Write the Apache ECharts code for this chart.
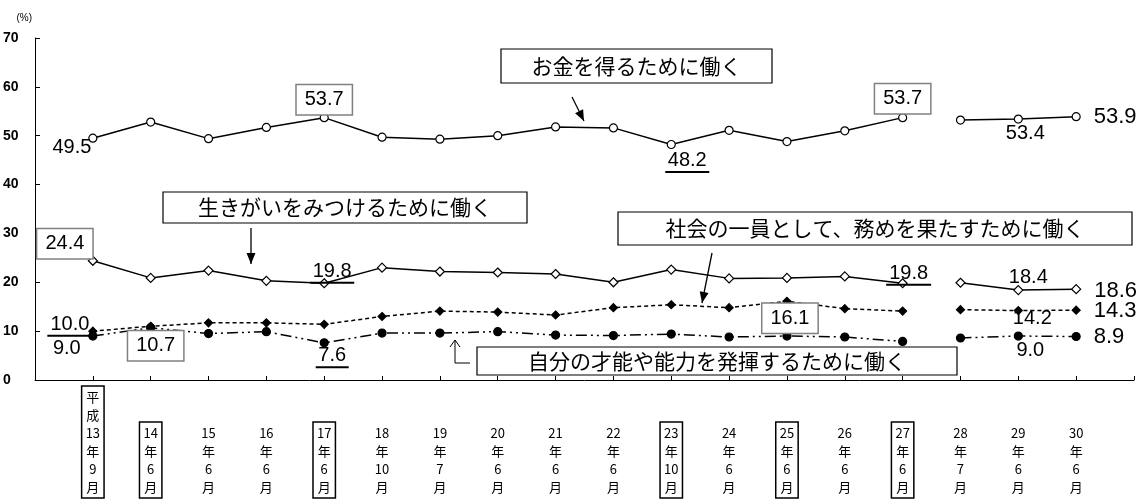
<!DOCTYPE html>
<html>
<head>
<meta charset="utf-8">
<script src="https://cdn.jsdelivr.net/npm/echarts@6/dist/echarts.min.js"></script>
<style>
html, body { margin: 0; background: #fff; }
#main { width: 1148px; height: 499px; }
</style>
</head>
<body>
<div id="main"></div>
<script>
// 調査時期
var categories = ['平成13年9月', '14年6月', '15年6月', '16年6月', '17年6月', '18年10月', '19年7月', '20年6月', '21年6月',
  '22年6月', '23年10月', '24年6月', '25年6月', '26年6月', '27年6月', '28年7月', '29年6月', '30年6月'];
var boxedCategories = ['平成13年9月', '14年6月', '17年6月', '23年10月', '25年6月', '27年6月'];

// 各系列 (%)
var money   = [49.5, 52.8, 49.4, 51.7, 53.7, 49.7, 49.3, 50.0, 51.8, 51.6, 48.2, 51.1, 48.8, 51.0, 53.7, 53.2, 53.4, 53.9];
var ikigai  = [24.4, 20.9, 22.4, 20.3, 19.8, 23.0, 22.2, 22.0, 21.7, 20.0, 22.6, 20.8, 20.9, 21.2, 19.8, 19.9, 18.4, 18.6];
var society = [10.0, 11.0, 11.7, 11.7, 11.4, 13.0, 14.1, 13.9, 13.3, 14.8, 15.4, 14.8, 16.1, 14.6, 14.1, 14.4, 14.2, 14.3];
var talent  = [9.0, 10.7, 9.5, 9.9, 7.6, 9.6, 9.6, 9.9, 9.2, 9.1, 9.4, 8.8, 9.0, 8.8, 7.9, 8.6, 9.0, 8.9];

var yTicks = [0, 10, 20, 30, 40, 50, 60, 70];
var breakAt = 15; // 27年と28年の間で線が切れる

var NUM_FONT = 'Liberation Sans, Arial, sans-serif';
var JP_FONT = 'Noto Sans CJK JP, sans-serif';

// 数値ラベルの置き方（インデックス: [種類, dx, dy, 下線幅]）
var labelSpec = {
  money:   { 0: ['plain', -21, 9], 4: ['box', 0, -18], 10: ['under', 16, 17, 44], 14: ['box', 0, -19], 16: ['plain', 7, 14], 17: ['end', 0, 0] },
  ikigai:  { 0: ['box', -28, -17], 4: ['under', 8, -11, 44], 14: ['under', 6, -9, 45], 16: ['plain', 10, -13], 17: ['end', 0, 2] },
  society: { 0: ['under', -23, -6, 45], 12: ['box', 3, 17], 16: ['plain', 14, 8], 17: ['end', 0, 1] },
  talent:  { 0: ['plain', -26, 12], 1: ['box', 5, 18], 4: ['under', 8, 14, 33], 16: ['plain', 12, 14], 17: ['end', 0, 0] }
};

function makeLabel(spec, v) {
  var kind = spec[0];
  var txt = v.toFixed(1);
  if (kind === 'end') {
    return { show: true, position: 'right', distance: 13, formatter: txt,
      fontFamily: NUM_FONT, fontSize: 22, color: '#000' };
  }
  var lab = { show: true, position: 'inside', formatter: txt,
    fontFamily: NUM_FONT, fontSize: 20, color: '#000' };
  if (kind === 'box') {
    lab.borderColor = '#808080';
    lab.borderWidth = 1.5;
    lab.padding = [5, 8, 4, 8];
    lab.backgroundColor = '#fff';
  }
  if (kind === 'under') {
    lab.formatter = '{t|' + txt + '}\n{u|}';
    lab.rich = {
      t: { fontFamily: NUM_FONT, fontSize: 20, lineHeight: 21, color: '#000' },
      u: { width: spec[3], height: 2, backgroundColor: '#000' }
    };
  }
  return lab;
}

// 両端に空のカテゴリを置く
function segment(values, key, from, to) {
  var out = [null];
  for (var i = 0; i < values.length; i++) {
    if (i >= from && i < to) {
      var item = { value: values[i] };
      if (labelSpec[key][i]) item.label = makeLabel(labelSpec[key][i], values[i]);
      out.push(item);
    } else {
      out.push(null);
    }
  }
  out.push(null);
  return out;
}

var styles = {
  money:   { symbol: 'circle', size: 8, fill: '#fff', dash: 'solid' },
  ikigai:  { symbol: 'diamond', size: 9, fill: '#fff', dash: 'solid' },
  society: { symbol: 'diamond', size: 8, fill: '#000', dash: [4, 3] },
  talent:  { symbol: 'circle', size: 8, fill: '#000', dash: [11, 4, 2, 4, 2, 4] }
};
var seriesData = { money: money, ikigai: ikigai, society: society, talent: talent };

var series = [];
Object.keys(seriesData).forEach(function (key) {
  var st = styles[key];
  [[0, breakAt], [breakAt, categories.length]].forEach(function (r) {
    series.push({
      type: 'line',
      data: segment(seriesData[key], key, r[0], r[1]),
      symbol: st.symbol,
      symbolSize: st.size,
      showAllSymbol: true,
      connectNulls: false,
      silent: true,
      animation: false,
      itemStyle: { color: st.fill, borderColor: '#000', borderWidth: 1.2 },
      lineStyle: { color: '#000', width: 1.5, type: st.dash },
      labelLayout: function (p) {
        var s = labelSpec[key][p.dataIndex - 1];
        if (!s || s[0] === 'end') return { hideOverlap: false, dy: s ? s[2] : 0 };
        return { dx: s[1], dy: s[2], hideOverlap: false };
      },
      z: 3
    });
  });
});

function vertical(c) { return c.match(/\d+|./g).join('\n'); }

// 枠なしのラベルと枠付きのラベルを別の軸で描く
var plainData = [''].concat(categories.map(function (c) {
  return boxedCategories.indexOf(c) >= 0 ? '' : vertical(c);
})).concat(['']);
var boxedData = [''].concat(categories.map(function (c) {
  return boxedCategories.indexOf(c) >= 0 ? vertical(c) : '';
})).concat(['']);

var labelBase = {
  interval: function (i, v) { return v !== ''; },
  margin: 116, verticalAlign: 'bottom', lineHeight: 18,
  fontFamily: JP_FONT, fontSize: 13, color: '#000', hideOverlap: false
};

// 注記の枠と矢印
function arrowHead(x1, y1, x2, y2) {
  var a = Math.atan2(y2 - y1, x2 - x1), L = 11, W = 4.5;
  var bx = x2 - L * Math.cos(a), by = y2 - L * Math.sin(a);
  return { type: 'polygon', shape: { points: [[x2, y2],
    [bx + W * Math.sin(a), by - W * Math.cos(a)], [bx - W * Math.sin(a), by + W * Math.cos(a)]] },
    style: { fill: '#000' }, silent: true };
}
function arrowLine(x1, y1, x2, y2) {
  return [{ type: 'line', shape: { x1: x1, y1: y1, x2: x2, y2: y2 }, style: { stroke: '#000', lineWidth: 1.3 }, silent: true },
    arrowHead(x1, y1, x2, y2)];
}
function callout(txt, x, y, w, h) {
  return [{ type: 'rect', shape: { x: x, y: y, width: w, height: h }, style: { fill: '#fff', stroke: '#000', lineWidth: 1.2 }, silent: true, z: 10 },
    { type: 'text', x: x + w / 2, y: y + h / 2, style: { text: txt, fontFamily: JP_FONT, fontSize: 21, fill: '#000', align: 'center', verticalAlign: 'middle' }, silent: true, z: 11 }];
}

var graphics = [].concat(
  callout('お金を得るために働く', 501, 49, 271, 34),
  arrowLine(572, 97, 584, 121),
  callout('生きがいをみつけるために働く', 163, 192, 364, 31),
  arrowLine(251, 228, 251, 264),
  callout('社会の一員として、務めを果たすために働く', 618, 212, 514, 33),
  arrowLine(712, 253, 702, 303),
  callout('自分の才能や能力を発揮するために働く', 477, 347, 480, 28),
  [{ type: 'polyline', shape: { points: [[470, 363], [455, 363], [455, 340]] }, style: { stroke: '#000', lineWidth: 1, fill: null }, silent: true },
   { type: 'polyline', shape: { points: [[450, 347], [455, 340], [460, 347]] }, style: { stroke: '#000', lineWidth: 1, fill: null }, silent: true }]
);

var chart = echarts.init(document.getElementById('main'));
chart.setOption({
  animation: false,
  backgroundColor: '#fff',
  grid: { left: 35, right: 14, top: 38, bottom: 119, containLabel: false, outerBoundsMode: 'none' },
  xAxis: [{
    type: 'category',
    boundaryGap: false,
    data: plainData,
    axisLine: { lineStyle: { color: '#000', width: 1 } },
    axisTick: { show: true, inside: true, length: 4, interval: 0, lineStyle: { color: '#000' } },
    axisLabel: labelBase,
    splitLine: { show: false }
  }, {
    type: 'category',
    position: 'bottom',
    boundaryGap: false,
    data: boxedData,
    axisLine: { show: false },
    axisTick: { show: false },
    axisLabel: Object.assign({}, labelBase, { margin: 118, borderColor: '#000', borderWidth: 1.5, padding: [2, 4] }),
    splitLine: { show: false }
  }],
  yAxis: {
    type: 'value',
    min: yTicks[0],
    max: yTicks[yTicks.length - 1],
    interval: yTicks[1] - yTicks[0],
    name: '(%)',
    nameLocation: 'end',
    nameGap: 15,
    nameTextStyle: { fontFamily: NUM_FONT, fontSize: 10, color: '#000', align: 'right', padding: [0, 3, 0, 0] },
    axisLine: { show: true, lineStyle: { color: '#000', width: 1 } },
    axisTick: { show: true, inside: true, length: 5, lineStyle: { color: '#000' } },
    axisLabel: { align: 'left', margin: 32, fontFamily: NUM_FONT, fontSize: 14, fontWeight: 'bold', color: '#000' },
    splitLine: { show: false }
  },
  series: series,
  graphic: graphics
});
</script>
</body>
</html>
